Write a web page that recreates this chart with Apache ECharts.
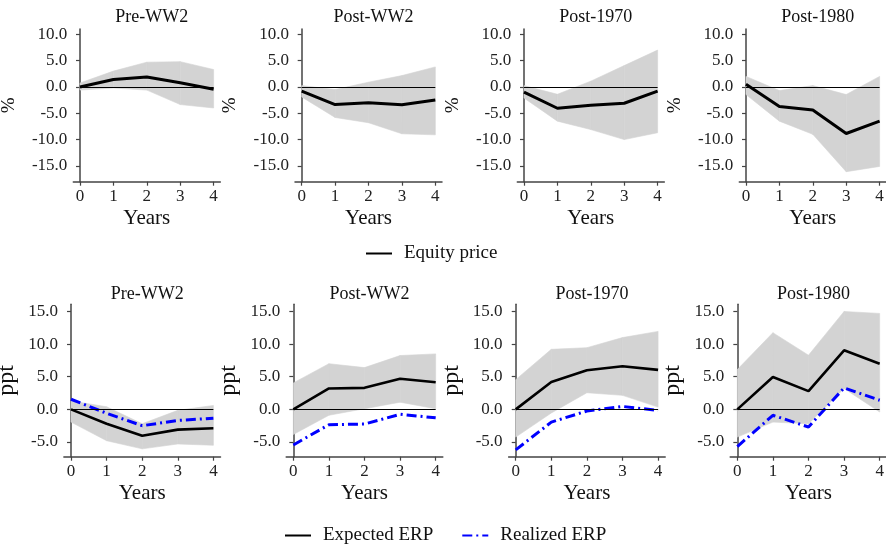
<!DOCTYPE html>
<html><head><meta charset="utf-8">
<script src="https://cdn.jsdelivr.net/npm/echarts@6/dist/echarts.min.js"></script>
<style>html,body{margin:0;padding:0;background:#fff}#c{width:886px;height:546px}</style>
</head><body><div id="c"></div>
<script>
const years = [0, 1, 2, 3, 4];
const panelTitles = ['Pre-WW2', 'Post-WW2', 'Post-1970', 'Post-1980'];
const topTicks = [-15, -10, -5, 0, 5, 10];
const bottomTicks = [-5, 0, 5, 10, 15];

// Top row: equity price response (%)
const eqPreWW2 = [0, 1.4, 1.9, 0.8, -0.45];
const eqPreWW2Lo = [-0.6, -0.2, -0.6, -3.35, -4.0];
const eqPreWW2Hi = [0.75, 3.0, 4.7, 4.8, 3.3];
const eqPostWW2 = [-0.8, -3.35, -3.0, -3.4, -2.5];
const eqPostWW2Lo = [-1.9, -5.8, -6.8, -8.9, -9.1];
const eqPostWW2Hi = [0.25, -0.5, 0.9, 2.15, 3.8];
const eqPost1970 = [-1.0, -4.05, -3.5, -3.1, -0.8];
const eqPost1970Lo = [-2.1, -6.5, -8.1, -10.0, -8.7];
const eqPost1970Hi = [0.25, -1.4, 1.1, 4.05, 7.0];
const eqPost1980 = [0.5, -3.7, -4.4, -8.85, -6.5];
const eqPost1980Lo = [-1.45, -6.5, -9.0, -16.1, -15.1];
const eqPost1980Hi = [2.0, -0.7, 0.25, -1.45, 2.0];

// Bottom row: expected / realized ERP (ppt)
const expPreWW2 = [0, -2.2, -4.05, -3.1, -2.9];
const realPreWW2 = [1.55, -0.6, -2.5, -1.7, -1.35];
const expPreWW2Lo = [-1.95, -4.8, -6.05, -5.3, -5.5];
const expPreWW2Hi = [1.3, 0.4, -2.2, -0.15, 0.6];
const expPostWW2 = [0, 3.2, 3.3, 4.7, 4.15];
const realPostWW2 = [-5.45, -2.35, -2.25, -0.75, -1.3];
const expPostWW2Lo = [-3.85, -0.9, 0.1, 1.1, 0.1];
const expPostWW2Hi = [4.05, 7.0, 6.4, 8.25, 8.5];
const expPost1970 = [0, 4.2, 6.0, 6.6, 6.05];
const realPost1970 = [-6.2, -1.95, -0.25, 0.45, -0.15];
const expPost1970Lo = [-4.25, -0.55, 2.55, 2.15, 0.35];
const expPost1970Hi = [4.55, 9.2, 9.45, 11.0, 11.95];
const expPost1980 = [0, 4.95, 2.8, 9.05, 7.0];
const realPost1980 = [-5.7, -0.9, -2.7, 3.3, 1.4];
const expPost1980Lo = [-4.25, -1.95, -2.2, 3.2, -0.4];
const expPost1980Hi = [6.1, 11.75, 8.3, 15.0, 14.7];

const topLines = [eqPreWW2, eqPostWW2, eqPost1970, eqPost1980];
const topLo = [eqPreWW2Lo, eqPostWW2Lo, eqPost1970Lo, eqPost1980Lo];
const topHi = [eqPreWW2Hi, eqPostWW2Hi, eqPost1970Hi, eqPost1980Hi];
const botExp = [expPreWW2, expPostWW2, expPost1970, expPost1980];
const botReal = [realPreWW2, realPostWW2, realPost1970, realPost1980];
const botLo = [expPreWW2Lo, expPostWW2Lo, expPost1970Lo, expPost1980Lo];
const botHi = [expPreWW2Hi, expPostWW2Hi, expPost1970Hi, expPost1980Hi];

const FONT = '"Liberation Serif", "DejaVu Serif", serif';
const topLefts = [73.3, 295, 517.3, 739.3];
const botLefts = [63.9, 286.2, 508.6, 730.2];

const grids = [], xAxes = [], yAxes = [], titles = [], series = [];

function pairs(vals) { return years.map((x, i) => [x, vals[i]]); }

function bandSeries(idx, lo, hi) {
  return {
    type: 'custom', name: 'band', xAxisIndex: idx, yAxisIndex: idx, silent: true, z: 1,
    data: years.map((x, i) => [x, lo[i], hi[i]]),
    encode: { x: 0, y: [1, 2] },
    renderItem: function (params, api) {
      const i = params.dataIndex;
      if (i >= years.length - 1) return null;
      const x0 = years[i], x1 = years[i + 1];
      const pts = [
        api.coord([x0, hi[i]]), api.coord([x1, hi[i + 1]]),
        api.coord([x1, lo[i + 1]]), api.coord([x0, lo[i]])
      ];
      return { type: 'polygon', shape: { points: pts },
        style: { fill: '#d3d3d3', stroke: '#d3d3d3', lineWidth: 0.6 } };
    }
  };
}

function addPanel(idx, left, top, width, height, ymin, ymax, ticks, yname, ynameSize, ynameGap, title, titleTop) {
  grids.push({ left: left, top: top, width: width, height: height, containLabel: false, outerBoundsMode: 'none' });
  xAxes.push({
    type: 'value', gridIndex: idx, min: -0.2, max: 4.2,
    name: 'Years', nameLocation: 'middle', nameGap: 26,
    nameTextStyle: { fontFamily: FONT, fontSize: 21, color: '#111' },
    axisLine: { onZero: false, lineStyle: { color: '#444', width: 1.5 } },
    axisTick: { customValues: years, length: 4, lineStyle: { color: '#444', width: 1.2 } },
    axisLabel: { customValues: years, fontFamily: FONT, fontSize: 17, color: '#222', margin: 6 },
    splitLine: { show: false }
  });
  yAxes.push({
    type: 'value', gridIndex: idx, min: ymin, max: ymax,
    name: yname, nameLocation: 'middle', nameGap: ynameGap,
    nameTextStyle: { fontFamily: FONT, fontSize: ynameSize, color: '#111' },
    axisLine: { show: true, lineStyle: { color: '#444', width: 1.5 } },
    axisTick: { show: true, customValues: ticks, length: 4, lineStyle: { color: '#444', width: 1.2 } },
    axisLabel: { customValues: ticks, fontFamily: FONT, fontSize: 17, color: '#222', margin: 6,
      formatter: v => v.toFixed(1) },
    splitLine: { show: false }
  });
  titles.push({
    text: title, left: left + width / 2, top: titleTop, textAlign: 'center',
    textStyle: { fontFamily: FONT, fontSize: 18, fontWeight: 'normal', color: '#111' }
  });
}

for (let p = 0; p < 4; p++) {
  addPanel(p, topLefts[p], 29, 147, 152.7, -18, 11, topTicks, '%', 19, 55, panelTitles[p], 3);
  series.push(bandSeries(p, topLo[p], topHi[p]));
  series.push({
    type: 'line', name: 'Equity price', xAxisIndex: p, yAxisIndex: p, z: 3,
    data: pairs(topLines[p]), symbol: 'none',
    lineStyle: { color: '#000', width: 3 }, itemStyle: { color: '#000' },
    markLine: { silent: true, symbol: 'none', label: { show: false },
      lineStyle: { color: '#000', width: 1, type: 'solid' },
      data: [[{ coord: [years[0], 0] }, { coord: [years[years.length - 1], 0] }]] }
  });
}
for (let p = 0; p < 4; p++) {
  const idx = 4 + p;
  addPanel(idx, botLefts[p], 304.3, 156.6, 152.4, -7.25, 16.1, bottomTicks, 'ppt', 24, 45, panelTitles[p], 280);
  series.push(bandSeries(idx, botLo[p], botHi[p]));
  series.push({
    type: 'line', name: 'Expected ERP', xAxisIndex: idx, yAxisIndex: idx, z: 3,
    data: pairs(botExp[p]), symbol: 'none',
    lineStyle: { color: '#000', width: 2.6 }, itemStyle: { color: '#000' },
    markLine: { silent: true, symbol: 'none', label: { show: false },
      lineStyle: { color: '#000', width: 1, type: 'solid' },
      data: [[{ coord: [years[0], 0] }, { coord: [years[years.length - 1], 0] }]] }
  });
  series.push({
    type: 'line', name: 'Realized ERP', xAxisIndex: idx, yAxisIndex: idx, z: 4,
    data: pairs(botReal[p]), symbol: 'none',
    lineStyle: { color: '#0000ff', width: 3, type: [10, 4, 2, 4] }, itemStyle: { color: '#0000ff' }
  });
}

const legendItemStyle = { color: 'rgba(0,0,0,0)', borderColor: 'rgba(0,0,0,0)', borderWidth: 0 };
const chart = echarts.init(document.getElementById('c'), null, { renderer: 'canvas' });
chart.setOption({
  animation: false,
  backgroundColor: '#fff',
  title: titles,
  grid: grids,
  xAxis: xAxes,
  yAxis: yAxes,
  legend: [
    { data: ['Equity price'], left: 365, top: 244, padding: 0, itemWidth: 26, itemHeight: 14,
      selectedMode: false, itemStyle: legendItemStyle,
      textStyle: { fontFamily: FONT, fontSize: 19, color: '#111', padding: [0, 0, 0, 7] } },
    { data: ['Expected ERP', 'Realized ERP'], left: 284, top: 526, padding: 0, itemWidth: 26, itemHeight: 14,
      itemGap: 28, selectedMode: false, itemStyle: legendItemStyle,
      textStyle: { fontFamily: FONT, fontSize: 19, color: '#111', padding: [0, 0, 0, 7] } }
  ],
  series: series
});
</script></body></html>
